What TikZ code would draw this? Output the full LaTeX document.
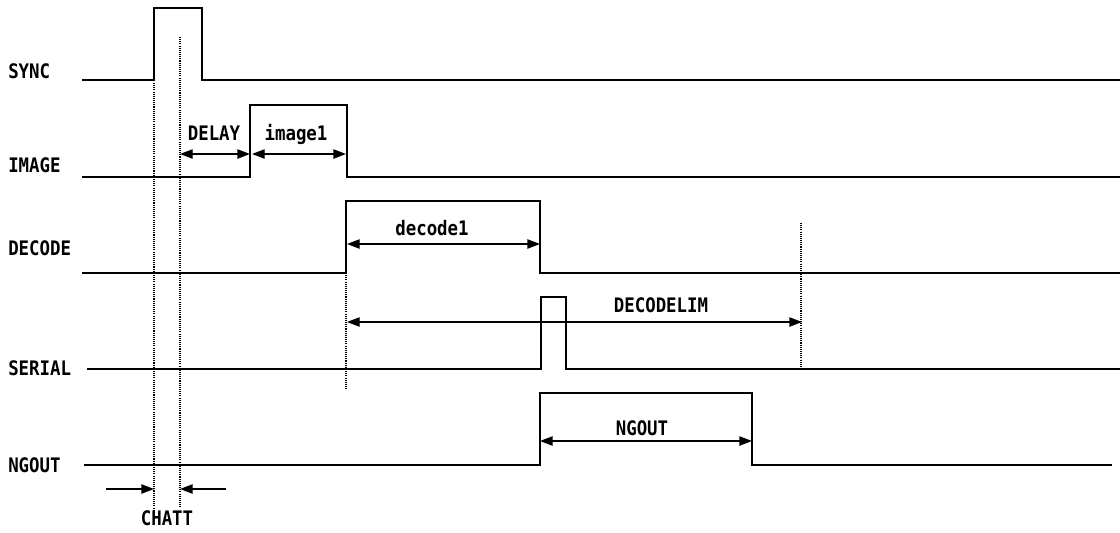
\documentclass[tikz,border=0pt]{standalone}
\usepackage{fontspec}
\newfontfamily\sigfont{DejaVu Sans Mono}[FakeStretch=0.87]
\usepackage{tikz}
\usetikzlibrary{arrows.meta}

\tikzset{
    sigline/.style={line width=1.6pt, line join=miter},
    thinsig/.style={line width=1.1pt, line join=miter},
    guide/.style={dash pattern=on 0.8pt off 0.8pt, line width=0.9pt},
    dimarrow/.style={line width=1pt, {Triangle[length=9.5pt,width=7pt]}-{Triangle[length=9.5pt,width=7pt]}},
    onearrow/.style={line width=1pt, -{Triangle[length=9.5pt,width=7pt]}},
    siglabel/.style={anchor=base west, inner sep=0pt, font=\sigfont\bfseries\fontsize{15pt}{17pt}\selectfont},
    dimlabel/.style={anchor=base, inner sep=0pt, font=\sigfont\bfseries\fontsize{15pt}{17pt}\selectfont},
}

\begin{document}
\begin{tikzpicture}[x=0.75pt, y=-0.75pt]
    \useasboundingbox (0,0) rectangle (1120,532);

    % signal names
    \node[siglabel] (sync)   at (8,78)  {SYNC};
    \node[siglabel] (image)  at (8,172) {IMAGE};
    \node[siglabel] (decode) at (8,255) {DECODE};
    \node[siglabel] (serial) at (8,375) {SERIAL};
    \node[siglabel] (ngout)  at (8,472) {NGOUT};

    % waveforms
    \draw[sigline] (82,80) -- (154,80) -- (154,8) -- (202,8) -- (202,80) -- (1120,80);
    \draw[sigline] (82,177) -- (250,177) -- (250,105) -- (347,105) -- (347,177) -- (1120,177);
    \draw[sigline] (82,273) -- (346,273) -- (346,201) -- (540,201) -- (540,273) -- (1120,273);
    \draw[thinsig] (87,369) -- (541,369) -- (541,297) -- (566,297) -- (566,369) -- (1120,369);
    \draw[thinsig] (84,465) -- (540,465) -- (540,393) -- (752,393) -- (752,465) -- (1112,465);

    % guide lines
    \coordinate (chattA) at (154,489);
    \coordinate (chattB) at (180,489);
    \draw[guide] (154,83) -- (154,513);
    \draw[guide] (180,37) -- (180,507);
    \draw[guide] (346,273) -- (346,390);
    \draw[guide] (801,223) -- (801,367);

    % intervals
    \coordinate (delayL) at (180,154);
    \coordinate (delayR) at (250,154);
    \coordinate (imgL)   at (252,154);
    \coordinate (imgR)   at (346,154);
    \coordinate (decL)   at (347,244);
    \coordinate (decR)   at (540,244);
    \coordinate (limL)   at (347,322);
    \coordinate (limR)   at (802,322);
    \coordinate (ngL)    at (540,441);
    \coordinate (ngR)    at (752,441);
    \coordinate (chattL) at (106,489);
    \coordinate (chattR) at (226,489);

    \draw[dimarrow] (delayL) -- (delayR);
    \draw[dimarrow] (imgL) -- (imgR);
    \draw[dimarrow] (decL) -- (decR);
    \draw[dimarrow] (limL) -- (limR);
    \draw[dimarrow] (ngL) -- (ngR);
    \draw[onearrow] (chattL) -- (chattA);
    \draw[onearrow] (chattR) -- (chattB);

    \node[dimlabel] (delaytxt) at (214,140) {DELAY};
    \node[dimlabel] (imagetxt) at (296,140) {image1};
    \node[dimlabel] (dectxt)   at (432,235) {decode1};
    \node[dimlabel] (limtxt)   at (661,312) {DECODELIM};
    \node[dimlabel] (ngtxt)    at (642,435) {NGOUT};
    \node[dimlabel] (chatttxt) at (167,525) {CHATT};
\end{tikzpicture}
\end{document}
